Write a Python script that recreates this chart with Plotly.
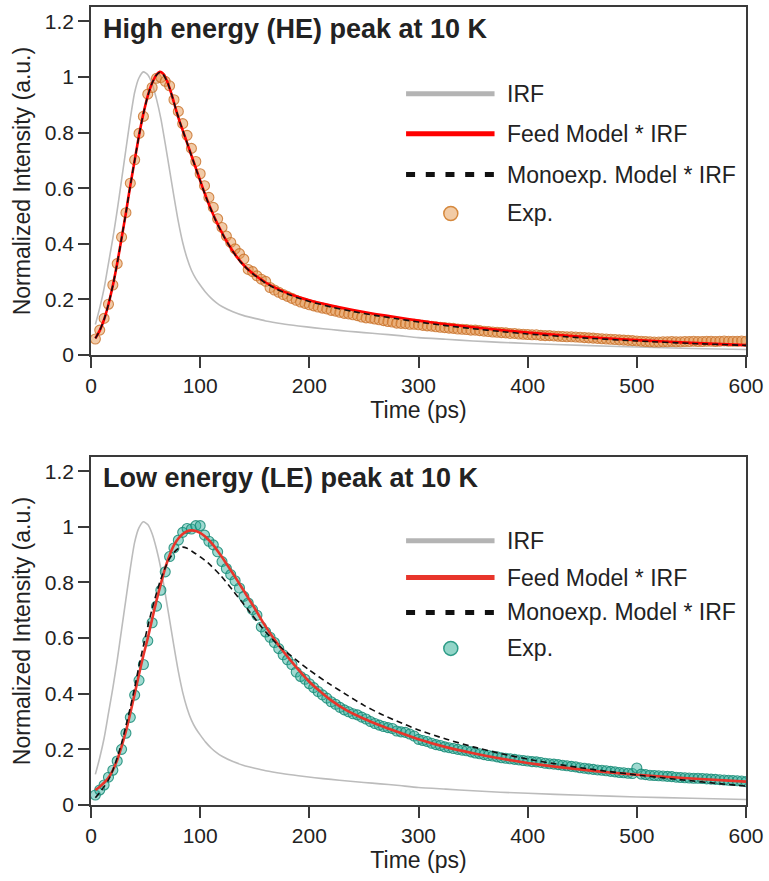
import plotly.graph_objects as go

# ---------------- data ----------------
time_exp = [
    4, 8, 12, 16, 20, 24, 28, 32, 36, 40,
    44, 48, 52, 56, 60, 64, 68, 72, 76, 80,
    84, 88, 92, 96, 100, 104, 108, 112, 116, 120,
    124, 128, 132, 136, 140, 144, 148, 152, 156, 160,
    164, 168, 172, 176, 180, 184, 188, 192, 196, 200,
    204, 208, 212, 216, 220, 224, 228, 232, 236, 240,
    244, 248, 252, 256, 260, 264, 268, 272, 276, 280,
    284, 288, 292, 296, 300, 304, 308, 312, 316, 320,
    324, 328, 332, 336, 340, 344, 348, 352, 356, 360,
    364, 368, 372, 376, 380, 384, 388, 392, 396, 400,
    404, 408, 412, 416, 420, 424, 428, 432, 436, 440,
    444, 448, 452, 456, 460, 464, 468, 472, 476, 480,
    484, 488, 492, 496, 500, 504, 508, 512, 516, 520,
    524, 528, 532, 536, 540, 544, 548, 552, 556, 560,
    564, 568, 572, 576, 580, 584, 588, 592, 596, 600,
]

exp_he = [
    0.058, 0.090, 0.132, 0.183, 0.252, 0.329, 0.424, 0.512, 0.618, 0.702,
    0.797, 0.858, 0.938, 0.962, 0.995, 0.998, 0.984, 0.968, 0.918, 0.876,
    0.832, 0.790, 0.743, 0.696, 0.652, 0.609, 0.567, 0.531, 0.490, 0.459,
    0.428, 0.405, 0.382, 0.365, 0.345, 0.308, 0.300, 0.285, 0.273, 0.265,
    0.243, 0.234, 0.226, 0.218, 0.211, 0.204, 0.197, 0.191, 0.186, 0.181,
    0.177, 0.173, 0.169, 0.166, 0.161, 0.158, 0.154, 0.150, 0.148, 0.145,
    0.142, 0.137, 0.134, 0.133, 0.130, 0.127, 0.124, 0.121, 0.119, 0.115,
    0.114, 0.113, 0.111, 0.111, 0.109, 0.107, 0.105, 0.104, 0.102, 0.100,
    0.099, 0.097, 0.096, 0.094, 0.093, 0.092, 0.090, 0.090, 0.088, 0.086,
    0.085, 0.083, 0.082, 0.081, 0.080, 0.078, 0.078, 0.076, 0.075, 0.074,
    0.073, 0.073, 0.071, 0.070, 0.070, 0.069, 0.068, 0.067, 0.066, 0.066,
    0.065, 0.064, 0.063, 0.062, 0.061, 0.060, 0.059, 0.058, 0.057, 0.056,
    0.055, 0.054, 0.053, 0.052, 0.051, 0.050, 0.049, 0.048, 0.047, 0.047,
    0.048, 0.048, 0.049, 0.048, 0.048, 0.049, 0.049, 0.050, 0.049, 0.049,
    0.050, 0.050, 0.049, 0.050, 0.051, 0.050, 0.050, 0.050, 0.051, 0.050,
]

exp_le = [
    0.036, 0.054, 0.072, 0.100, 0.125, 0.158, 0.200, 0.258, 0.315, 0.395,
    0.448, 0.505, 0.590, 0.655, 0.715, 0.772, 0.838, 0.893, 0.924, 0.952,
    0.980, 0.994, 0.992, 1.004, 1.004, 0.970, 0.948, 0.935, 0.910, 0.875,
    0.850, 0.828, 0.806, 0.780, 0.750, 0.726, 0.702, 0.682, 0.640, 0.622,
    0.603, 0.584, 0.562, 0.540, 0.522, 0.505, 0.478, 0.462, 0.452, 0.436,
    0.422, 0.408, 0.396, 0.384, 0.371, 0.362, 0.351, 0.342, 0.335, 0.328,
    0.324, 0.316, 0.309, 0.300, 0.293, 0.287, 0.282, 0.278, 0.275, 0.266,
    0.263, 0.261, 0.255, 0.248, 0.236, 0.232, 0.228, 0.222, 0.217, 0.214,
    0.209, 0.206, 0.203, 0.200, 0.197, 0.195, 0.191, 0.187, 0.184, 0.181,
    0.178, 0.176, 0.173, 0.170, 0.168, 0.166, 0.164, 0.162, 0.160, 0.158,
    0.156, 0.155, 0.153, 0.150, 0.148, 0.147, 0.145, 0.143, 0.141, 0.139,
    0.137, 0.134, 0.132, 0.130, 0.128, 0.126, 0.125, 0.123, 0.121, 0.119,
    0.117, 0.116, 0.114, 0.113, 0.133, 0.111, 0.109, 0.107, 0.106, 0.105,
    0.104, 0.103, 0.102, 0.100, 0.099, 0.098, 0.097, 0.096, 0.096, 0.095,
    0.094, 0.093, 0.092, 0.091, 0.090, 0.089, 0.088, 0.087, 0.086, 0.084,
]

time_irf = [4, 8, 12, 16, 20, 24, 28, 32, 36, 40, 44, 48, 52, 56, 60, 64, 68,
            72, 76, 80, 84, 88, 92, 96, 100, 105, 110, 115, 120, 130, 140,
            150, 160, 175, 190, 205, 220, 235, 250, 265, 280, 300, 325, 350,
            375, 400, 450, 500, 550, 600]
irf = [0.110, 0.170, 0.240, 0.330, 0.420, 0.520, 0.630, 0.740, 0.850, 0.945,
       0.997, 1.018, 1.008, 0.975, 0.920, 0.850, 0.760, 0.665, 0.570, 0.480,
       0.405, 0.348, 0.305, 0.275, 0.252, 0.226, 0.205, 0.188, 0.175, 0.156,
       0.142, 0.132, 0.123, 0.113, 0.105, 0.098, 0.092, 0.086, 0.081, 0.076,
       0.071, 0.063, 0.057, 0.051, 0.046, 0.042, 0.035, 0.029, 0.024, 0.020]

time_fit_he = [4, 8, 12, 16, 20, 24, 28, 32, 36, 40, 44, 48, 52, 56, 60, 63,
               66, 70, 74, 78, 82, 86, 90, 94, 98, 102, 106, 110, 114, 118,
               122, 126, 130, 135, 140, 145, 150, 155, 160, 170, 180, 190,
               200, 220, 240, 260, 280, 300, 325, 350, 375, 400, 450, 500,
               550, 600]
feed_he = [0.060, 0.088, 0.128, 0.183, 0.250, 0.330, 0.420, 0.512, 0.610,
           0.700, 0.790, 0.868, 0.932, 0.978, 1.008, 1.018, 1.012, 0.982,
           0.935, 0.880, 0.830, 0.786, 0.740, 0.695, 0.650, 0.605, 0.562,
           0.523, 0.487, 0.455, 0.425, 0.398, 0.373, 0.346, 0.323, 0.304,
           0.288, 0.274, 0.261, 0.240, 0.223, 0.209, 0.197, 0.178, 0.162,
           0.148, 0.136, 0.124, 0.111, 0.100, 0.090, 0.081, 0.066, 0.054,
           0.044, 0.036]
mono_he = [0.060, 0.088, 0.128, 0.183, 0.250, 0.330, 0.420, 0.512, 0.610,
           0.700, 0.790, 0.868, 0.932, 0.978, 1.007, 1.016, 1.010, 0.981,
           0.935, 0.881, 0.831, 0.786, 0.740, 0.694, 0.649, 0.604, 0.561,
           0.522, 0.486, 0.454, 0.424, 0.397, 0.372, 0.345, 0.322, 0.303,
           0.287, 0.273, 0.259, 0.237, 0.220, 0.205, 0.193, 0.173, 0.157,
           0.143, 0.131, 0.119, 0.106, 0.095, 0.085, 0.076, 0.062, 0.051,
           0.042, 0.035]

time_fit_le = [4, 8, 12, 16, 20, 24, 28, 32, 36, 40, 44, 48, 52, 56, 60, 64,
               68, 72, 76, 80, 84, 88, 92, 96, 100, 104, 108, 112, 116, 120,
               125, 130, 135, 140, 145, 150, 157, 165, 175, 187, 200, 210,
               220, 235, 250, 265, 280, 300, 325, 350, 375, 400, 425, 450,
               475, 500, 550, 600]
feed_le = [0.054, 0.066, 0.080, 0.098, 0.125, 0.162, 0.210, 0.265, 0.330,
           0.400, 0.470, 0.538, 0.600, 0.668, 0.735, 0.795, 0.852, 0.898,
           0.934, 0.958, 0.974, 0.984, 0.987, 0.985, 0.978, 0.967, 0.952,
           0.934, 0.913, 0.891, 0.862, 0.832, 0.801, 0.770, 0.738, 0.707,
           0.660, 0.612, 0.558, 0.500, 0.443, 0.408, 0.376, 0.338, 0.310,
           0.286, 0.264, 0.236, 0.208, 0.186, 0.167, 0.151, 0.138, 0.127,
           0.117, 0.109, 0.095, 0.084]

time_mono_le = [4, 8, 12, 16, 20, 24, 28, 32, 36, 40, 44, 48, 52, 56, 60, 64,
                68, 72, 76, 80, 84, 88, 92, 96, 100, 107, 119, 131, 143, 157,
                170, 187, 200, 218, 235, 250, 265, 280, 300, 325, 350, 375,
                400, 425, 450, 475, 500, 525, 550, 575, 600]
mono_le = [0.026, 0.045, 0.066, 0.090, 0.125, 0.170, 0.222, 0.285, 0.350,
           0.422, 0.500, 0.572, 0.642, 0.705, 0.762, 0.812, 0.853, 0.886,
           0.908, 0.922, 0.927, 0.923, 0.913, 0.903, 0.892, 0.871, 0.824,
           0.766, 0.706, 0.636, 0.580, 0.524, 0.485, 0.436, 0.394, 0.358,
           0.328, 0.302, 0.270, 0.237, 0.209, 0.185, 0.165, 0.148, 0.133,
           0.120, 0.108, 0.097, 0.087, 0.077, 0.068]

x_ticks = [0, 100, 200, 300, 400, 500, 600]
y_ticks = [0, 0.2, 0.4, 0.6, 0.8, 1.0, 1.2]
y_ticktext = ["0", "0.2", "0.4", "0.6", "0.8", "1", "1.2"]

legend_labels = ["IRF", "Feed Model * IRF", "Monoexp. Model * IRF", "Exp."]
panel_titles = ["High energy (HE) peak at 10 K", "Low energy (LE) peak at 10 K"]

# ---------------- figure ----------------
W, H = 769, 881
ML, MR, MT, MB = 91, 19, 5, 76
PW, PH = W - ML - MR, H - MT - MB

def px_x(px):
    return (px - ML) / PW

def px_y(py):
    return (H - MB - py) / PH

FONT = "Liberation Sans, Arial, sans-serif"
TXT = "#222222"
AX = "#3a3a3a"

IRF_C = "#bcbcbc"
BLACK = "#111111"

fig = go.Figure()

panels = [
    dict(xa="x", ya="y", exp=exp_he, feed_t=time_fit_he, feed=feed_he,
         mono_t=time_fit_he, mono=mono_he, red="#ff0000",
         mfill="rgba(228,150,80,0.50)", mline="rgba(200,112,40,0.80)"),
    dict(xa="x2", ya="y2", exp=exp_le, feed_t=time_fit_le, feed=feed_le,
         mono_t=time_mono_le, mono=mono_le, red="#e8352b",
         mfill="rgba(45,172,152,0.45)", mline="rgba(22,138,118,0.85)"),
]

for p in panels:
    fig.add_trace(go.Scatter(x=time_irf, y=irf, mode="lines", xaxis=p["xa"], yaxis=p["ya"],
                             line=dict(color=IRF_C, width=1.6, shape="spline", smoothing=0.6),
                             showlegend=False, name="IRF"))
    fig.add_trace(go.Scatter(x=time_exp, y=p["exp"], mode="markers", xaxis=p["xa"], yaxis=p["ya"],
                             marker=dict(size=10, color=p["mfill"],
                                         line=dict(color=p["mline"], width=1.1)),
                             showlegend=False, name="Exp."))
    fig.add_trace(go.Scatter(x=p["feed_t"], y=p["feed"], mode="lines", xaxis=p["xa"], yaxis=p["ya"],
                             line=dict(color=p["red"], width=2.6, shape="spline", smoothing=0.6),
                             showlegend=False, name="Feed Model * IRF"))
    fig.add_trace(go.Scatter(x=p["mono_t"], y=p["mono"], mode="lines", xaxis=p["xa"], yaxis=p["ya"],
                             line=dict(color=BLACK, width=1.6, dash="6px,4px",
                                       shape="spline", smoothing=0.6),
                             showlegend=False, name="Monoexp. Model * IRF"))

axis_common = dict(showline=True, linecolor=AX, linewidth=1.6, mirror=True,
                   ticks="outside", ticklen=11, tickwidth=1.6, tickcolor=AX,
                   showgrid=False, zeroline=False,
                   tickfont=dict(family=FONT, size=21, color=TXT))

top_dom = [px_y(354), 1.0]
bot_dom = [0.0, px_y(456)]

fig.update_layout(
    width=W, height=H,
    margin=dict(l=ML, r=MR, t=MT, b=MB),
    paper_bgcolor="white", plot_bgcolor="white",
    showlegend=False,
    font=dict(family=FONT, color=TXT),
    xaxis=dict(domain=[0, 1], range=[0, 600], anchor="y", tickvals=x_ticks,
               title=dict(text="Time (ps)", font=dict(size=23, family=FONT, color=TXT), standoff=5),
               **axis_common),
    yaxis=dict(domain=top_dom, range=[0, 1.2513], anchor="x", tickvals=y_ticks, ticktext=y_ticktext,
               title=dict(text="Normalized Intensity (a.u.)", font=dict(size=23, family=FONT, color=TXT),
                          standoff=8),
               **axis_common),
    xaxis2=dict(domain=[0, 1], range=[0, 600], anchor="y2", tickvals=x_ticks,
                title=dict(text="Time (ps)", font=dict(size=23, family=FONT, color=TXT), standoff=5),
                **axis_common),
    yaxis2=dict(domain=bot_dom, range=[0, 1.2513], anchor="x2", tickvals=y_ticks, ticktext=y_ticktext,
                title=dict(text="Normalized Intensity (a.u.)", font=dict(size=23, family=FONT, color=TXT),
                           standoff=8),
                **axis_common),
)

# panel titles
for title, py in zip(panel_titles, [27, 477]):
    fig.add_annotation(text="<b>" + title + "</b>", xref="paper", yref="paper",
                       x=px_x(101), y=px_y(py), xanchor="left", yanchor="middle",
                       showarrow=False, font=dict(family=FONT, size=27, color=TXT))

# custom legends (long line symbols as in the reference)
legend_rows = [[92, 132, 173, 212], [540, 577, 612, 648]]
legend_marker = [("#f2cba5", "#d5883d"), ("#92d5c8", "#2e9c87")]
legend_red = ["#ff0000", "#e8352b"]
x0, x1, xt = 408, 497, 508
for k in range(2):
    rows = legend_rows[k]
    styles = [dict(color="#b4b4b4", width=5), dict(color=legend_red[k], width=5),
              dict(color=BLACK, width=5, dash="9px,10.7px")]
    for r in range(3):
        fig.add_shape(type="line", xref="paper", yref="paper",
                      x0=px_x(x0), x1=px_x(x1), y0=px_y(rows[r]), y1=px_y(rows[r]),
                      line=styles[r])
    fig.add_shape(type="circle", xref="paper", yref="paper",
                  xsizemode="pixel", ysizemode="pixel",
                  xanchor=px_x(453), yanchor=px_y(rows[3]),
                  x0=-7, x1=7, y0=-7, y1=7,
                  fillcolor=legend_marker[k][0], line=dict(color=legend_marker[k][1], width=1.5))
    for r in range(4):
        fig.add_annotation(text=legend_labels[r], xref="paper", yref="paper",
                           x=px_x(xt), y=px_y(rows[r]), xanchor="left", yanchor="middle",
                           showarrow=False, font=dict(family=FONT, size=23, color=TXT))

fig.write_html("out.html")
